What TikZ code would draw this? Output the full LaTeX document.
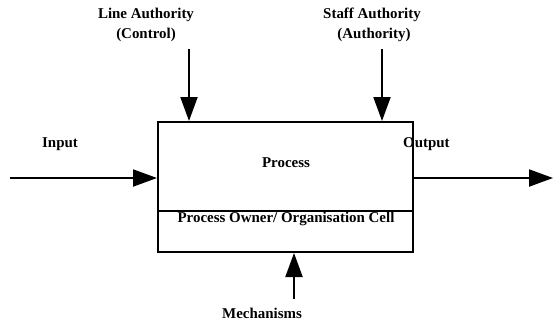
\documentclass[tikz,border=0pt]{standalone}
\usepackage{fontspec}
\setmainfont{Liberation Serif}
\usetikzlibrary{arrows.meta}
\tikzset{
  lbl/.style={font=\bfseries\fontsize{15}{20}\selectfont, inner sep=0pt, align=center},
  flow/.style={line width=2bp, -{Triangle[length=24bp,width=17bp]}},
  boxline/.style={line width=2bp}
}
\begin{document}
\begin{tikzpicture}[x=1bp,y=-1bp]
\useasboundingbox (0,0) rectangle (553,322);
\node[boxline, draw, minimum width=255bp, minimum height=130bp, inner sep=0pt] (box) at (285.5,187) {};
\coordinate (divL) at (158,210.5);
\coordinate (divR) at (413,210.5);
\draw[boxline] (divL) -- (divR);
\node[lbl] (proc) at (286,163) {Process};
\node[lbl] (owner) at (286,219) {Process Owner/ Organisation Cell};
\node[lbl] (la) at (146,25) {Line Authority\\(Control)};
\node[lbl] (sa) at (372,25) {Staff Authority\\\hspace*{4bp}(Authority)};
\node[lbl] (in) at (60,144) {Input};
\node[lbl, anchor=west] (out) at (403,144) {Output};
\node[lbl] (mech) at (262,313) {Mechanisms};
\coordinate (laS) at (189,49);
\coordinate (saS) at (382,49);
\coordinate (inS) at (10,178);
\coordinate (outE) at (553,178);
\coordinate (meS) at (294,299);
\draw[flow] (laS) -- (laS |- box.north);
\draw[flow] (saS) -- (saS |- box.north);
\draw[flow] (inS) -- (inS -| box.west);
\draw[flow] (outE -| box.east) -- (outE);
\draw[flow] (meS) -- (meS |- box.south);
\end{tikzpicture}
\end{document}
